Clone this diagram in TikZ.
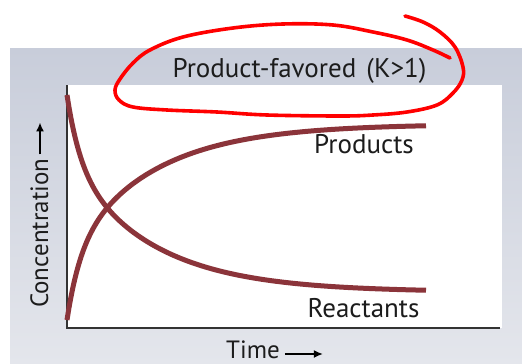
\documentclass[tikz,border=0pt]{standalone}
\usepackage{fontspec}
\setmainfont{PT Sans}
\usetikzlibrary{arrows.meta,calc}
\definecolor{curvecol}{RGB}{139,52,58}
\definecolor{panelTop}{HTML}{C8CDDA}
\definecolor{panelBot}{HTML}{E4E6EC}
\definecolor{txt}{HTML}{1C1C1C}
\tikzset{
  curve/.style={line width=5pt, curvecol},
  axisline/.style={line width=1.4pt, draw=black!80},
  lbl/.style={font=\fontsize{27}{30}\selectfont, text=txt, inner sep=0pt},
  dirarrow/.style={line width=1.8pt, -{Latex[length=9pt,width=8pt]}, black},
  loop/.style={line width=3.6pt, red, line cap=round, line join=round}
}
\begin{document}
\begin{tikzpicture}[x=1pt,y=-1pt]
\useasboundingbox (0,0) rectangle (522,364);
\fill[white] (0,0) rectangle (522,364);
% panel
\shade[top color=panelTop, bottom color=panelBot] (10,48) rectangle (522,364);
% plot area
\fill[white] (67,85) rectangle (502,328);
% axes
\coordinate (O) at (67,328);
\coordinate (Ytop) at (67,85);
\coordinate (Xend) at (500,328);
\draw[axisline] (Ytop) -- (O) -- (Xend);
% curves
\draw[curve] plot[domain=0:359, samples=180, smooth]
  ({67+\x}, {292-197*(0.667*exp(-0.012*\x)+0.333*exp(-0.076*\x))});
\draw[curve] plot[domain=0:359, samples=180, smooth]
  ({67+\x}, {124+196*(0.667*exp(-0.012*\x)+0.333*exp(-0.076*\x))});
% labels
\node[lbl, anchor=base] (title) at (299.5,77) {Product-favored\hspace{3pt} (K>1)};
\node[lbl, anchor=base] (prod) at (364,153) {Products};
\node[lbl, anchor=base] (react) at (363.5,317) {Reactants};
\node[lbl, font=\fontsize{25}{28}\selectfont, anchor=base west] (time) at (226,358) {Time};
\draw[dirarrow] ($(time.base east)+(5,-4)$) -- ++(38,0);
\node[lbl, font=\fontsize{25}{28}\selectfont, anchor=base west, rotate=90] (conc) at (48,308) {Concentration};
\draw[dirarrow] ($(conc.base east)+(-8,-4)$) -- ++(0,-32);
% red hand-drawn loop
\draw[loop] plot[smooth, tension=0.6] coordinates {
 (405,16) (423,22) (440,32) (455,47) (463,67) (462,80) (453,93) (437,105)
 (407,112) (373,115) (340,116) (267,115) (217,112) (167,110) (133,107)
 (119,100) (115,90) (120,79) (133,63) (150,50) (183,37) (233,28) (283,24)
 (333,25) (373,32) (407,40) (433,50) (450,58)};
\end{tikzpicture}
\end{document}
